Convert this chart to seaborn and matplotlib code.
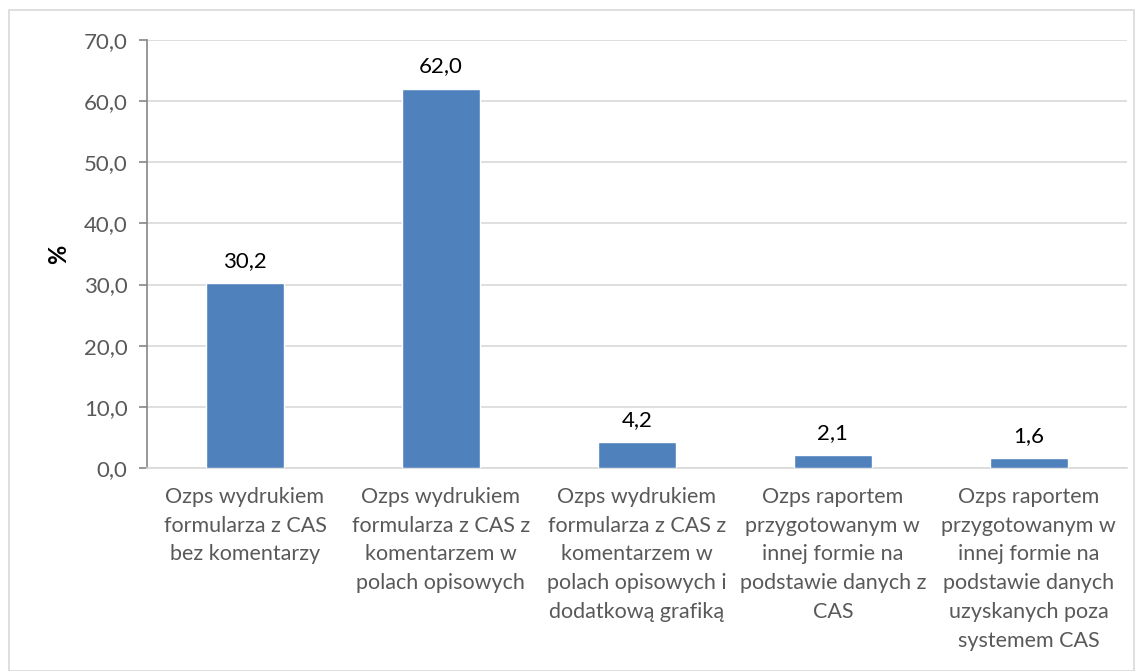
import pandas as pd
import matplotlib
matplotlib.use('Agg')
import matplotlib.pyplot as plt
import seaborn as sns

categories = [
    'Ozps wydrukiem\nformularza z CAS\nbez komentarzy',
    'Ozps wydrukiem\nformularza z CAS z\nkomentarzem w\npolach opisowych',
    'Ozps wydrukiem\nformularza z CAS z\nkomentarzem w\npolach opisowych i\ndodatkową grafiką',
    'Ozps raportem\nprzygotowanym w\ninnej formie na\npodstawie danych z\nCAS',
    'Ozps raportem\nprzygotowanym w\ninnej formie na\npodstawie danych\nuzyskanych poza\nsystemem CAS',
]
values = [30.2, 62.0, 4.2, 2.1, 1.6]
y_ticks = [0, 10, 20, 30, 40, 50, 60, 70]

df = pd.DataFrame({'cat': categories, 'val': values})

sns.set_style('white')
plt.rcParams['font.family'] = ['Lato', 'DejaVu Sans']

fig = plt.figure(figsize=(11.42, 6.71), dpi=100)
ax = fig.add_axes([0.1287, 0.3025, 0.858, 0.6379])

sns.barplot(data=df, x='cat', y='val', color='#4F81BD', width=0.4,
            saturation=1, ax=ax, zorder=3)

ax.set_ylim(0, 70)
ax.set_xlim(-0.5, 4.5)
ax.set_yticks(y_ticks)
ax.set_yticklabels([f'{t:.1f}'.replace('.', ',') for t in y_ticks])
ax.yaxis.grid(True, color='#D9D9D9', linewidth=1.2, zorder=0)
ax.set_axisbelow(True)

for s in ['top', 'right']:
    ax.spines[s].set_visible(False)
ax.spines['left'].set_color('#868686')
ax.spines['left'].set_linewidth(1.2)
ax.spines['bottom'].set_color('#D9D9D9')
ax.spines['bottom'].set_linewidth(1.2)

ax.tick_params(axis='y', which='major', left=True, length=6, width=1.2,
               color='#868686', labelsize=16, labelcolor='#595959', pad=8)
ax.tick_params(axis='x', bottom=False, labelsize=15.5, labelcolor='#595959', pad=10)
for lbl in ax.get_xticklabels():
    lbl.set_linespacing(1.55)

ax.set_xlabel('')
ax.set_ylabel('%', fontsize=17, fontweight='bold', color='black', labelpad=10)

for i, v in enumerate(values):
    ax.annotate(f'{v:.1f}'.replace('.', ','), (i, v), xytext=(0, 9),
                textcoords='offset points', ha='center', va='bottom',
                fontsize=16, color='black')

fig.patches.append(plt.Rectangle((0.008, 0.0), 0.985, 0.985, transform=fig.transFigure,
                                 fill=False, edgecolor='#D9D9D9', linewidth=1.2))

fig.savefig('out.png', dpi=100)
